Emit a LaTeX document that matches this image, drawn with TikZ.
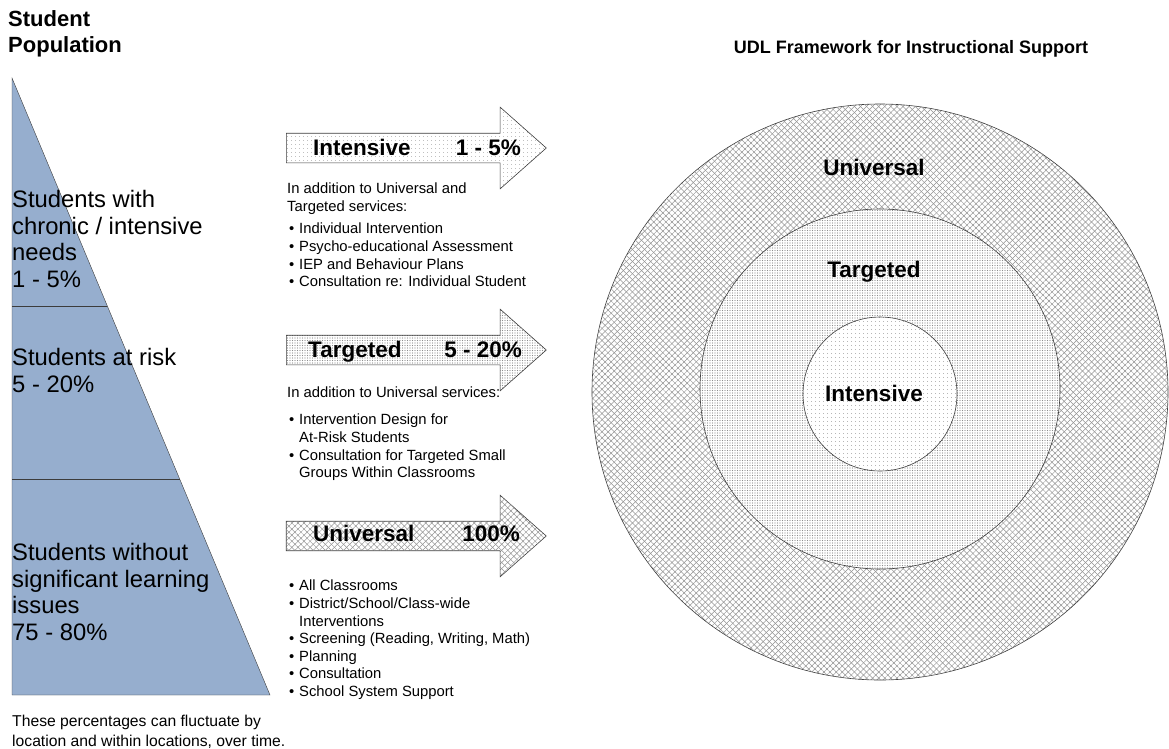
\documentclass[tikz,border=0pt]{standalone}
\usepackage{fontspec}
\setmainfont{Liberation Sans}
\usetikzlibrary{positioning, shapes.arrows, patterns.meta}

\definecolor{popblue}{RGB}{150,174,206}
\definecolor{edgegray}{RGB}{60,60,60}

\newcommand{\bit}{\makebox[10pt][l]{\textbullet}}
\newcommand{\cont}{\hspace*{10pt}}

\begin{document}
\begin{tikzpicture}[
    x=1pt, y=-1pt,
    title/.style={font=\fontsize{22}{26}\selectfont\bfseries, inner sep=0pt, align=left},
    poptext/.style={font=\fontsize{23.8}{26.7}\selectfont, inner sep=0pt, align=left, anchor=north west},
    listtext/.style={font=\fontsize{14.8}{17.6}\selectfont, inner sep=0pt, align=left, anchor=north west},
    tierarrow/.style={single arrow, draw=edgegray, semithick, minimum height=260pt, single arrow head extend=26pt, single arrow tip angle=83, inner xsep=0pt, inner ysep=14.5pt, anchor=tail},
    tierlabel/.style={font=\fontsize{22.5}{26}\selectfont\bfseries, inner sep=0pt, anchor=base},
    ring/.style={circle, draw=edgegray, semithick, inner sep=0pt, preaction={fill=white}},
    sparse/.style={pattern={Dots[distance=4pt, radius=0.45pt]}, pattern color=gray},
    dense/.style={pattern={Dots[distance=2.5pt, radius=0.55pt]}, pattern color=black!45},
    hatch/.style={pattern={Lines[angle=45, distance=4.3pt, line width=0.5pt]}, pattern color=gray!85,
        postaction={pattern={Lines[angle=-45, distance=4.3pt, line width=0.5pt]}, pattern color=gray!85}}
]
    \useasboundingbox (0,0) rectangle (1169,748);

    % Titles
    \node[title, anchor=north west] (popTitle) at (8,10) {Student\\Population};
    \node[title, font=\fontsize{18}{22}\selectfont\bfseries, anchor=base] (udlTitle) at (911,53) {UDL Framework for Instructional Support};

    % Population triangle
    \coordinate (apex) at (12,78);
    \coordinate (baseL) at (12,695);
    \coordinate (baseR) at (270,695);
    \coordinate (cut1L) at (12,306);
    \coordinate (cut1R) at (107.3,306);
    \coordinate (cut2L) at (12,479);
    \coordinate (cut2R) at (179.7,479);
    \fill[popblue] (apex) -- (baseR) -- (baseL) -- cycle;
    \draw[edgegray] (cut1L) -- (cut1R);
    \draw[edgegray] (cut2L) -- (cut2R);
    \draw[edgegray] (apex) -- (baseR) -- (baseL) -- cycle;

    \node[poptext] (popInt) at (12,190) {Students with\\chronic / intensive\\needs\\1 - 5\%};
    \node[poptext] (popTar) at (12,348) {Students at risk\\5 - 20\%};
    \node[poptext] (popUni) at (12,543) {Students without\\significant learning\\issues\\75 - 80\%};
    \node[listtext, font=\fontsize{15.7}{19.5}\selectfont] (popNote) at (12,715) {These percentages can fluctuate by\\location and within locations, over time.};

    % Intensive arrow
    \node[tierarrow, sparse] (intArrow) at (286,148) {};
    \node[tierlabel, anchor=base west] (intName) at (313,155) {Intensive};
    \node[tierlabel, anchor=base east] (intPct) at (521,155) {1 - 5\%};
    \node[listtext] (intNote) at (287,183) {In addition to Universal and\\Targeted services:};
    \node[listtext] (intList) at (289,223) {\bit Individual Intervention\\\bit Psycho-educational Assessment\\\bit IEP and Behaviour Plans\\\bit Consultation re: Individual Student};

    % Targeted arrow
    \node[tierarrow, dense] (tarArrow) at (286,350) {};
    \node[tierlabel, anchor=base west] (tarName) at (308,357) {Targeted};
    \node[tierlabel, anchor=base east] (tarPct) at (522,357) {5 - 20\%};
    \node[listtext] (tarNote) at (287,387) {In addition to Universal services:};
    \node[listtext] (tarList) at (289,414) {\bit Intervention Design for\\\cont At-Risk Students\\\bit Consultation for Targeted Small\\\cont Groups Within Classrooms};

    % Universal arrow
    \node[tierarrow, hatch] (uniArrow) at (286,536) {};
    \node[tierlabel, anchor=base west] (uniName) at (313,541) {Universal};
    \node[tierlabel, anchor=base east] (uniPct) at (520,541) {100\%};
    \node[listtext] (uniList) at (289,580) {\bit All Classrooms\\\bit District/School/Class-wide\\\cont Interventions\\\bit Screening (Reading, Writing, Math)\\\bit Planning\\\bit Consultation\\\bit School System Support};

    % UDL rings
    \node[ring, hatch, minimum size=576pt] (uniRing) at (880,392) {};
    \node[ring, dense, minimum size=360pt] (tarRing) at (880,389) {};
    \node[ring, sparse, minimum size=154pt] (intRing) at (880,394) {};
    \node[tierlabel] (uniRingName) at (874,175) {Universal};
    \node[tierlabel] (tarRingName) at (874,277) {Targeted};
    \node[tierlabel] (intRingName) at (874,401) {Intensive};
\end{tikzpicture}
\end{document}
